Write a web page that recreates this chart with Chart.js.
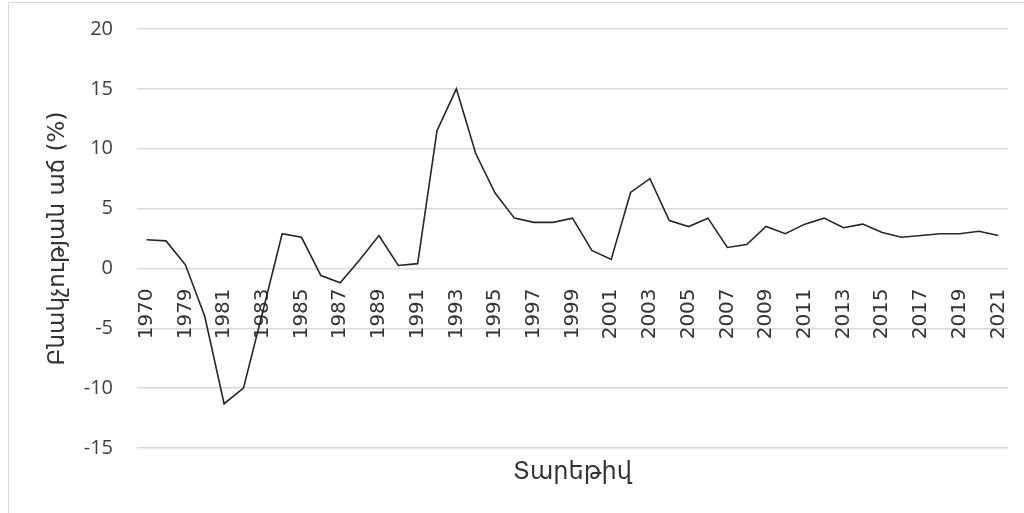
<!DOCTYPE html>
<html>
<head>
    <title>Բնակչության աճ</title>
    <script src="https://cdn.jsdelivr.net/npm/chart.js"></script>
    <style>
        body {
            margin: 0;
            background: #ffffff;
            overflow: hidden;
        }
        .wrap {
            position: relative;
            width: 1024px;
            height: 513px;
        }
        .frame {
            position: absolute;
            left: 8px;
            top: 2px;
            width: 1030px;
            height: 530px;
            border: 1px solid #d9d9d9;
        }
        canvas {
            position: absolute;
            left: 0;
            top: 0;
        }
    </style>
</head>
<body>
    <div class="wrap">
        <div class="frame"></div>
        <canvas id="growthChart" width="1024" height="513"></canvas>
    </div>

    <script>
        // years (second category has no visible label)
        const years = ['1970', '1978', '1979', '1980', '1981', '1982', '1983', '1984', '1985', '1986',
            '1987', '1988', '1989', '1990', '1991', '1992', '1993', '1994', '1995', '1996',
            '1997', '1998', '1999', '2000', '2001', '2002', '2003', '2004', '2005', '2006',
            '2007', '2008', '2009', '2010', '2011', '2012', '2013', '2014', '2015', '2016',
            '2017', '2018', '2019', '2020', '2021'];

        // growth, %
        const growth = [2.4, 2.3, 0.3, -4.0, -11.3, -10.0, -3.6, 2.9, 2.6, -0.6,
            -1.2, 0.7, 2.75, 0.25, 0.4, 11.5, 15.0, 9.6, 6.3, 4.2,
            3.85, 3.85, 4.2, 1.5, 0.75, 6.35, 7.5, 4.0, 3.5, 4.2,
            1.75, 2.0, 3.5, 2.9, 3.7, 4.2, 3.4, 3.7, 3.0, 2.6,
            2.75, 2.9, 2.9, 3.1, 2.75];

        const yMin = -15, yMax = 20, yStep = 5;

        // Excel style: year labels sit under the zero line, every second category
        const zeroLineLabels = {
            id: 'zeroLineLabels',
            beforeDatasetsDraw(chart) {
                const ctx = chart.ctx;
                const xs = chart.scales.x;
                const y0 = chart.scales.y.getPixelForValue(0);
                ctx.save();
                ctx.font = '20px "DejaVu Sans", sans-serif';
                ctx.fillStyle = '#333333';
                ctx.textAlign = 'right';
                ctx.textBaseline = 'middle';
                years.forEach((yr, i) => {
                    if (i % 2 !== 0) return;
                    const x = xs.getPixelForValue(i);
                    ctx.save();
                    ctx.translate(x, y0 + 20);
                    ctx.rotate(-Math.PI / 2);
                    ctx.fillText(yr, 0, 0);
                    ctx.restore();
                });
                ctx.restore();
            }
        };

        new Chart(document.getElementById('growthChart'), {
            type: 'line',
            data: {
                labels: years,
                datasets: [{
                    data: growth,
                    borderColor: '#262626',
                    borderWidth: 1.6,
                    pointRadius: 0,
                    tension: 0,
                    fill: false
                }]
            },
            options: {
                responsive: false,
                animation: false,
                layout: {
                    padding: { left: 44, top: 29, right: 16, bottom: 0 }
                },
                plugins: {
                    legend: { display: false },
                    tooltip: { enabled: false }
                },
                scales: {
                    x: {
                        offset: true,
                        grid: { display: false, drawTicks: false },
                        border: { display: false },
                        ticks: { display: false },
                        title: {
                            display: true,
                            text: 'Տարեթիվ',
                            color: '#333333',
                            font: { family: '"DejaVu Sans", sans-serif', size: 24 },
                            padding: { top: 0, bottom: 26 }
                        },
                        afterFit(scale) { scale.height = 65; }
                    },
                    y: {
                        min: yMin,
                        max: yMax,
                        ticks: {
                            stepSize: yStep,
                            padding: 24,
                            color: '#404040',
                            font: { family: '"Open Sans", sans-serif', size: 20 }
                        },
                        grid: { color: '#d9d9d9', lineWidth: 1.5, drawTicks: false },
                        border: { display: false },
                        title: {
                            display: true,
                            text: 'Բնակչության աճ (%)',
                            color: '#333333',
                            font: { family: '"DejaVu Sans", sans-serif', size: 23 },
                            padding: 0
                        },
                        afterFit(scale) {
                            scale.width = 93;
                            scale.paddingTop = 0;
                            scale.paddingBottom = 0;
                        }
                    }
                }
            },
            plugins: [zeroLineLabels]
        });
    </script>
</body>
</html>
